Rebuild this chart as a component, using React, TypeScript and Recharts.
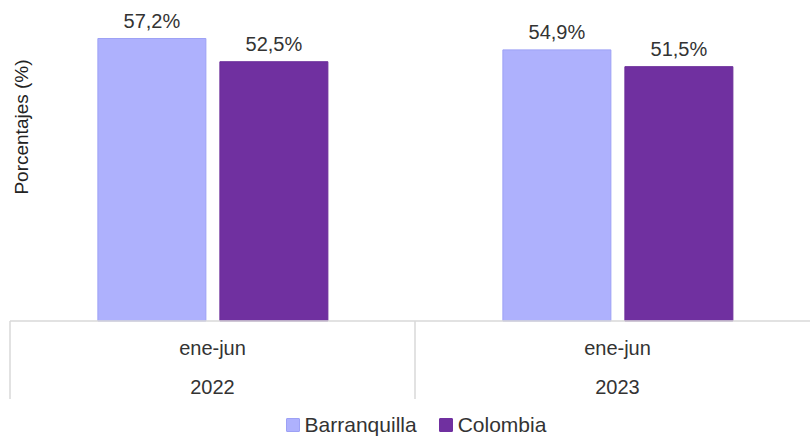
import { BarChart, Bar, XAxis, YAxis, LabelList, Legend } from 'recharts'

const periods = ['ene-jun', 'ene-jun']
const years = ['2022', '2023']
const barranquilla = [57.2, 54.9]
const colombia = [52.5, 51.5]

const seriesNames = { barranquilla: 'Barranquilla', colombia: 'Colombia' }
const colors = { barranquilla: '#aeb1fd', barranquillaStroke: '#9da1f5', colombia: '#7030a0' }

const chartData = years.map((year, i) => ({
  year,
  period: periods[i],
  barranquilla: barranquilla[i],
  colombia: colombia[i],
}))

const FONT = '"Liberation Sans", Arial, sans-serif'
const GRID = '#d9d9d9'

const fmt = (v: any) => `${Number(v).toFixed(1).replace('.', ',')}%`

function CategoryTick(props: any) {
  const { x, y, payload, index } = props
  const half = payload.offset || 0
  const isLast = index === years.length - 1
  return (
    <g>
      <line x1={x - half} y1={y - 8} x2={x - half} y2={y + 70} stroke={GRID} strokeWidth={1.5} />
      {isLast && <line x1={x + half} y1={y - 8} x2={x + half} y2={y + 70} stroke={GRID} strokeWidth={1.5} />}
      <text x={x} y={y + 26} textAnchor="middle" fontSize={20} fill="#333" fontFamily={FONT}>
        {periods[payload.index ?? index]}
      </text>
      <text x={x} y={y + 65} textAnchor="middle" fontSize={20} fill="#333" fontFamily={FONT}>
        {payload.value}
      </text>
    </g>
  )
}

function LegendContent() {
  const items = [
    { name: seriesNames.barranquilla, fill: colors.barranquilla, stroke: colors.barranquillaStroke },
    { name: seriesNames.colombia, fill: colors.colombia, stroke: colors.colombia },
  ]
  return (
    <div style={{ display: 'flex', justifyContent: 'center', gap: 22, fontFamily: FONT, fontSize: 21, color: '#333', paddingLeft: 22 }}>
      {items.map((it) => (
        <div key={it.name} style={{ display: 'flex', alignItems: 'center', gap: 5 }}>
          <span style={{ width: 12, height: 12, background: it.fill, border: `1px solid ${it.stroke}`, display: 'inline-block', borderRadius: 1 }} />
          <span>{it.name}</span>
        </div>
      ))}
    </div>
  )
}

export default function App() {
  return (
    <div style={{ position: 'absolute', left: 0, top: 0, width: 810, height: 441, overflow: 'hidden', background: '#fff' }}>
      <BarChart
        width={820}
        height={441}
        data={chartData}
        margin={{ top: 0, right: 0, left: 0, bottom: 40 }}
        barCategoryGap="21.7%"
        barGap={14}
      >
        <XAxis
          dataKey="year"
          height={80}
          axisLine={{ stroke: GRID, strokeWidth: 1.5 }}
          tickLine={false}
          tick={<CategoryTick />}
          interval={0}
        />
        <YAxis
          width={10}
          domain={[0, 65]}
          axisLine={false}
          tickLine={false}
          tick={false}
          label={{
            content: () => (
              <text x={28} y={127} transform="rotate(-90 28 127)" textAnchor="middle" fontSize={19} fill="#222" fontFamily={FONT}>
                Porcentajes (%)
              </text>
            ),
          }}
        />
        <Legend
          verticalAlign="middle"
          content={<LegendContent />}
          wrapperStyle={{ top: 413, left: 0, width: 810 }}
        />
        <Bar dataKey="barranquilla" name={seriesNames.barranquilla} fill={colors.barranquilla} stroke={colors.barranquillaStroke} isAnimationActive={false}>
          <LabelList dataKey="barranquilla" position="top" offset={11} formatter={fmt} fontSize={20} fill="#333" fontFamily={FONT} />
        </Bar>
        <Bar dataKey="colombia" name={seriesNames.colombia} fill={colors.colombia} stroke="#6a2c99" isAnimationActive={false}>
          <LabelList dataKey="colombia" position="top" offset={11} formatter={fmt} fontSize={20} fill="#333" fontFamily={FONT} />
        </Bar>
      </BarChart>
    </div>
  )
}
